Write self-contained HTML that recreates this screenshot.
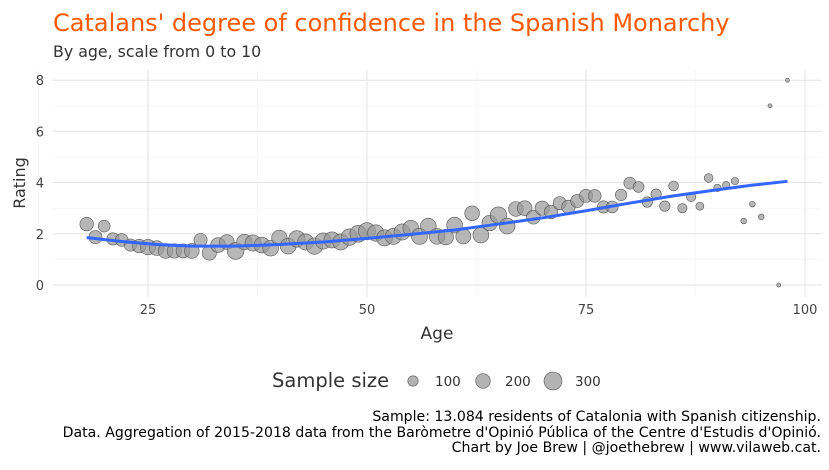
<!DOCTYPE html>
<html><head><meta charset="utf-8">
<style>
body{margin:0;background:#fff;font-family:"DejaVu Sans","Liberation Sans",sans-serif;}
svg text{font-family:"DejaVu Sans","Liberation Sans",sans-serif;}
</style></head>
<body>
<svg id="c" width="829" height="466" xmlns="http://www.w3.org/2000/svg">
<text x="53" y="31" font-size="24" fill="#ff5a00">Catalans' degree of confidence in the Spanish Monarchy</text>
<text x="53" y="57" font-size="15.8" fill="#333">By age, scale from 0 to 10</text>
<g id="grid"></g>
<g id="pts"></g>
<g id="ln"></g>
<g id="ax"></g>
<text x="0" y="0" transform="translate(25,183) rotate(-90)" text-anchor="middle" font-size="16" fill="#333">Rating</text>
<text x="437" y="339" text-anchor="middle" font-size="17" fill="#333">Age</text>
<g>
<text x="272" y="387" font-size="19.5" fill="#333">Sample size</text>
<circle cx="413" cy="381" r="5.2" fill="#999" fill-opacity="0.75" stroke="#555" stroke-width="0.6"/>
<text x="435" y="386" font-size="13.5" fill="#333">100</text>
<circle cx="483" cy="381" r="7.3" fill="#999" fill-opacity="0.75" stroke="#555" stroke-width="0.6"/>
<text x="505" y="386" font-size="13.5" fill="#333">200</text>
<circle cx="553" cy="381" r="9" fill="#999" fill-opacity="0.75" stroke="#555" stroke-width="0.6"/>
<text x="575" y="386" font-size="13.5" fill="#333">300</text>
</g>
<g font-size="14.1" fill="#000" text-anchor="end">
<text x="821" y="421">Sample: 13.084 residents of Catalonia with Spanish citizenship.</text>
<text x="821" y="437">Data. Aggregation of 2015-2018 data from the Baròmetre d'Opinió Pública of the Centre d'Estudis d'Opinió.</text>
<text x="821" y="452">Chart by Joe Brew | @joethebrew | www.vilaweb.cat.</text>
</g>
</svg>
<script>
const ages=[18,19,20,21,22,23,24,25,26,27,28,29,30,31,32,33,34,35,36,37,38,39,40,41,42,43,44,45,46,47,48,49,50,51,52,53,54,55,56,57,58,59,60,61,62,63,64,65,66,67,68,69,70,71,72,73,74,75,76,77,78,79,80,81,82,83,84,85,86,87,88,89,90,91,92,93,94,95,96,97,98];
const ratings=[2.38,1.87,2.3,1.8,1.76,1.56,1.52,1.48,1.44,1.33,1.33,1.33,1.33,1.76,1.25,1.56,1.68,1.33,1.68,1.64,1.56,1.44,1.84,1.52,1.8,1.68,1.52,1.72,1.76,1.68,1.87,2.0,2.1,2.03,1.84,1.9,2.07,2.22,1.9,2.3,1.9,1.87,2.34,1.9,2.8,1.95,2.42,2.73,2.3,2.97,3.0,2.65,3.0,2.85,3.2,3.05,3.28,3.48,3.48,3.05,3.05,3.52,3.98,3.83,3.24,3.55,3.08,3.87,3.0,3.44,3.08,4.18,3.79,3.9,4.06,2.5,3.16,2.66,7.0,0,8.0];
const sizes=[170,160,130,140,150,140,170,220,200,200,190,180,200,160,190,200,200,260,220,240,230,230,220,230,250,240,250,240,240,240,250,260,270,250,240,240,240,230,240,230,230,220,230,210,200,230,220,250,230,200,200,180,190,170,160,170,160,160,150,140,130,120,130,110,100,100,100,90,80,80,60,70,50,50,50,30,30,30,15,15,15];
const smoothAges=[18,22,26,30,35,40,45,50,55,60,65,70,75,80,85,90,94,98];
const smoothVals=[1.85,1.7,1.58,1.52,1.52,1.58,1.68,1.82,1.98,2.15,2.38,2.62,2.9,3.2,3.48,3.72,3.9,4.05];
const xTicks=[25,50,75,100];
const yTicks=[0,2,4,6,8];
const NS="http://www.w3.org/2000/svg";
const X=a=>148+(a-25)*8.76;
const Y=v=>285-v*25.6;
const R=n=>Math.sqrt(n)*0.52;
function mk(tag,attrs,parent){const e=document.createElementNS(NS,tag);for(const k in attrs)e.setAttribute(k,attrs[k]);parent.appendChild(e);return e;}
const grid=document.getElementById('grid'),pts=document.getElementById('pts'),ln=document.getElementById('ln'),ax=document.getElementById('ax');
const pLeft=53,pRight=822,pTop=70,pBot=297;
[12.5,37.5,62.5,87.5].forEach(a=>{const l=mk('line',{x1:X(a),x2:X(a),y1:pTop,y2:pBot,stroke:'#f2f2f2','stroke-width':0.6},grid);

});
[1,3,5,7].forEach(v=>{const l=mk('line',{x1:pLeft,x2:pRight,y1:Y(v),y2:Y(v),stroke:'#f2f2f2','stroke-width':0.6},grid);

});
xTicks.forEach(a=>{const l=mk('line',{x1:X(a),x2:X(a),y1:pTop,y2:pBot,stroke:'#e3e3e3','stroke-width':1},grid);


const t=mk('text',{x:X(a),y:314,'text-anchor':'middle','font-size':13,fill:'#444'},ax);t.textContent=a;

});
yTicks.forEach(v=>{const l=mk('line',{x1:pLeft,x2:pRight,y1:Y(v),y2:Y(v),stroke:'#e3e3e3','stroke-width':1},grid);


const t=mk('text',{x:44,y:Y(v)+5,'text-anchor':'end','font-size':13,fill:'#444'},ax);t.textContent=v;

});
ages.forEach((a,i)=>{const c=mk('circle',{cx:X(a),cy:Y(ratings[i]),r:R(sizes[i]),fill:'#999','fill-opacity':0.7,stroke:'#555','stroke-width':0.6},pts);

});
const p=mk('polyline',{points:smoothAges.map((a,i)=>X(a)+','+Y(smoothVals[i])).join(' '),fill:'none',stroke:'#3366ff','stroke-width':3},ln);


</script>
</body></html>
